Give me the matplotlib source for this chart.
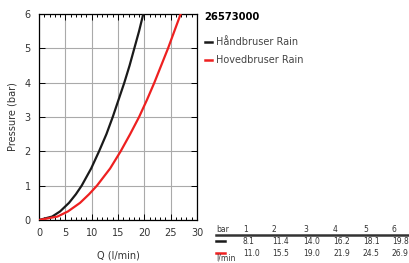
import matplotlib
matplotlib.use("Agg")
import matplotlib.pyplot as plt
from matplotlib.lines import Line2D

# table values (bar -> l/min)
pressure = [0, 1, 2, 3, 4, 5, 6]
hand_flow = [0, 8.1, 11.4, 14.0, 16.2, 18.1, 19.8]
head_flow = [0, 11.0, 15.5, 19.0, 21.9, 24.5, 26.9]

# extra points
extra_p = [0.1, 0.25, 0.5, 0.75, 1.5, 2.5, 3.5, 4.5, 5.5]
hand_extra_q = [2.5, 4.0, 5.7, 7.0, 9.9, 12.8, 15.1, 17.2, 19.0]
head_extra_q = [3.5, 5.5, 7.8, 9.5, 13.5, 17.3, 20.5, 23.2, 25.7]

table_bar = ["1", "2", "3", "4", "5", "6"]
title = "26573000"
names = ["Håndbruser Rain", "Hovedbruser Rain"]
colors = ["#1a1a1a", "#ee2020"]

W, H = 410, 263


def fx(px):
    return px / W


def fy(py):
    return 1 - py / H


def merge(q, p, lq, lp):
    pts = sorted(zip(q + lq, p + lp))
    return [a for a, b in pts], [b for a, b in pts]


fig = plt.figure(figsize=(4.1, 2.63), dpi=100)
ax = fig.add_axes([fx(39), fy(220), fx(197) - fx(39), fy(14) - fy(220)])

q1, p1 = merge(hand_flow, pressure, hand_extra_q, extra_p)
q2, p2 = merge(head_flow, pressure, head_extra_q, extra_p)
ax.plot(q1, p1, color=colors[0], lw=1.6, zorder=3)
ax.plot(q2, p2, color=colors[1], lw=1.6, zorder=3)

ax.set_xlim(0, 30)
ax.set_ylim(0, 6)
ax.set_xticks(range(0, 31, 5))
ax.set_xticks(range(0, 31, 1), minor=True)
ax.set_yticks(range(0, 7))
ax.grid(True, which="major", color="#aaaaaa", lw=0.8)
ax.tick_params(which="both", direction="in", top=True, right=True,
               labelsize=7, colors="black", labelcolor="#333333")
ax.tick_params(which="major", length=4, width=0.7, pad=6)
ax.tick_params(which="minor", length=2.5, width=0.7)
for s in ax.spines.values():
    s.set_linewidth(0.9)
ax.set_xlabel("Q (l/min)", fontsize=7, color="#333333", labelpad=9)
ax.set_ylabel("Pressure (bar)", fontsize=7, color="#333333", labelpad=5)

# legend block
fig.text(fx(204), fy(17), title, fontsize=7.2, fontweight="bold", va="center")
for i, (name, c) in enumerate(zip(names, colors)):
    y = 42 + i * 18
    fig.add_artist(Line2D([fx(205), fx(212)], [fy(y), fy(y)], color=c, lw=1.8))
    fig.text(fx(216), fy(y), name, fontsize=7, color="#444444", va="center")

# table
col_x = [243, 272, 303, 333, 363, 392]
fig.text(fx(216), fy(230), "bar", fontsize=5.5, color="#333333", va="center")
for x, b in zip(col_x, table_bar):
    fig.text(fx(x), fy(230), b, fontsize=5.5, color="#333333", va="center")
fig.add_artist(Line2D([fx(216), fx(410)], [fy(235), fy(235)], color="#333333", lw=1.8))
for row, (vals, c) in enumerate(zip([hand_flow[1:], head_flow[1:]], colors)):
    y = 241 + row * 12
    fig.add_artist(Line2D([fx(216), fx(225)], [fy(y), fy(y)], color=c, lw=1.8))
    for x, v in zip(col_x, vals):
        fig.text(fx(x), fy(y), f"{v:.1f}", fontsize=5.5, color="#333333", va="center")
fig.text(fx(216), fy(258), "l/min", fontsize=5.5, color="#333333", va="center")

fig.savefig("out.png", dpi=100)
